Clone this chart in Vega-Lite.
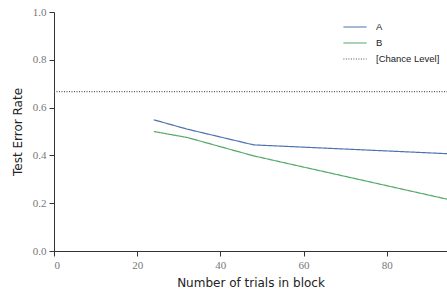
{
  "$schema": "https://vega.github.io/schema/vega-lite/v6.json",
  "width": 393,
  "height": 239,
  "autosize": {"type": "none"},
  "padding": {"left": 54, "top": 12, "right": 0, "bottom": 43},
  "background": "white",
  "config": {"view": {"stroke": null}},
  "data": {"values": [
    {"n": 24, "err": 0.549, "series": "A"},
    {"n": 32, "err": 0.51, "series": "A"},
    {"n": 48, "err": 0.444, "series": "A"},
    {"n": 96, "err": 0.406, "series": "A"},
    {"n": 24, "err": 0.5, "series": "B"},
    {"n": 32, "err": 0.475, "series": "B"},
    {"n": 48, "err": 0.398, "series": "B"},
    {"n": 96, "err": 0.211, "series": "B"},
    {"n": 0, "err": 0.667, "series": "[Chance Level]"},
    {"n": 96, "err": 0.667, "series": "[Chance Level]"}
  ]},
  "mark": {"type": "line", "strokeWidth": 1.2, "clip": true},
  "encoding": {
    "x": {"field": "n", "type": "quantitative",
      "scale": {"domain": [0, 94.5], "nice": false, "zero": false},
      "axis": {"title": "Number of trials in block", "values": [0, 20, 40, 60, 80], "format": "d",
        "grid": false, "domainColor": "#333", "tickColor": "#333", "tickSize": 5,
        "labelFont": "Liberation Serif", "labelFontSize": 11, "labelColor": "#777", "labelPadding": 3,
        "titleFont": "DejaVu Sans", "titleFontSize": 12, "titleFontWeight": "normal", "titleColor": "#222", "titlePadding": 7}},
    "y": {"field": "err", "type": "quantitative",
      "scale": {"domain": [0, 1], "nice": false},
      "axis": {"title": "Test Error Rate", "values": [0, 0.2, 0.4, 0.6, 0.8, 1.0], "format": ".1f",
        "grid": false, "domainColor": "#333", "tickColor": "#333", "tickSize": 5,
        "labelFont": "Liberation Serif", "labelFontSize": 11, "labelColor": "#777", "labelPadding": 3,
        "titleFont": "DejaVu Sans", "titleFontSize": 12, "titleFontWeight": "normal", "titleColor": "#222", "titlePadding": 8}},
    "color": {"field": "series", "type": "nominal",
      "scale": {"domain": ["A", "B", "[Chance Level]"], "range": ["#4c72b0", "#55a868", "#555555"]},
      "legend": {"title": null, "orient": "none", "legendX": 292, "legendY": 6,
        "symbolType": "M-1.45,0H1.45", "symbolSize": 256, "symbolStrokeWidth": 1.2,
        "labelFont": "Liberation Sans", "labelFontSize": 9.5, "labelColor": "#222", "rowPadding": 2, "labelOffset": 12}},
    "strokeDash": {"field": "series", "type": "nominal",
      "scale": {"domain": ["A", "B", "[Chance Level]"], "range": [[1, 0], [1, 0], [1, 1.5]]},
      "legend": null},
    "order": {"field": "n", "type": "quantitative"}
  }
}
